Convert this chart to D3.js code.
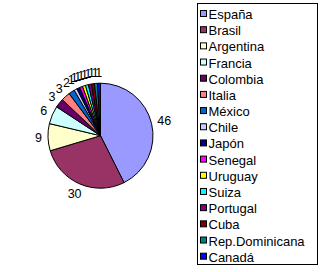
<!DOCTYPE html>
<html>
<head>
<meta charset="utf-8">
<script src="https://cdn.jsdelivr.net/npm/d3@7"></script>
<style>
  body { margin: 0; background: #fff; }
  svg { display: block; }
  text { font-family: Arial, "Liberation Sans", sans-serif; }
</style>
</head>
<body>
<svg id="chart" width="320" height="272"></svg>
<script>
const W = 320, H = 272;

// data
const countries = ["España", "Brasil", "Argentina", "Francia", "Colombia", "Italia", "México", "Chile",
  "Japón", "Senegal", "Uruguay", "Suiza", "Portugal", "Cuba", "Rep.Dominicana", "Canadá"];
const values = [46, 30, 9, 6, 3, 3, 2, 1, 1, 1, 1, 1, 1, 1, 1, 1];
const colors = ["#9999FF", "#993366", "#FFFFCC", "#CCFFFF", "#660066", "#FF8080", "#0066CC", "#CCCCFF",
  "#000080", "#FF00FF", "#FFFF00", "#00FFFF", "#800080", "#800000", "#008080", "#0000FF"];

const svg = d3.select("#chart");
const cx = 100.5, cy = 135.7, r = 52.5;

const pie = d3.pie().sort(null).value(d => d.v);
const arcs = pie(values.map((v, i) => ({ v, i })));
const arc = d3.arc().innerRadius(0).outerRadius(r);

const g = svg.append("g").attr("transform", `translate(${cx},${cy})`);

g.selectAll("path.slice")
  .data(arcs)
  .enter()
  .append("path")
  .attr("class", "slice")
  .attr("d", arc)
  .attr("fill", d => colors[d.data.i])
  .attr("stroke", "#000")
  .attr("stroke-width", 1);

// labels outside the pie, excel style
const fs = 12.5;
g.selectAll("text.lab")
  .data(arcs)
  .enter()
  .append("text")
  .attr("class", "lab")
  .attr("font-size", fs)
  .attr("text-anchor", "middle")
  .attr("dominant-baseline", "central")
  .each(function (d) {
    const a = (d.startAngle + d.endAngle) / 2;
    const dx = Math.sin(a), dy = -Math.cos(a);
    const w = String(d.data.v).length * fs * 0.556;
    const h = fs * 0.75;
    const x = dx * (r + 6) + dx * w / 2;
    const y = dy * (r + 6) + dy * h / 2;
    d3.select(this).attr("x", x).attr("y", y).text(d.data.v);
  });

// legend
const lg = { x: 197.5, y: 3.5, w: 120, h: 261 };
svg.append("rect")
  .attr("x", lg.x).attr("y", lg.y)
  .attr("width", lg.w).attr("height", lg.h)
  .attr("fill", "#fff").attr("stroke", "#000");

const ly = d3.scalePoint().domain(countries).range([14, 256.7]);

const items = svg.selectAll("g.item")
  .data(countries)
  .enter()
  .append("g")
  .attr("class", "item")
  .attr("transform", d => `translate(0,${ly(d)})`);

items.append("rect")
  .attr("x", 200.5).attr("y", -3.5)
  .attr("width", 6).attr("height", 6)
  .attr("fill", (d, i) => colors[i])
  .attr("stroke", "#000");

items.append("text")
  .attr("x", 208.5).attr("y", 0.5)
  .attr("dominant-baseline", "central")
  .attr("font-size", 13)
  .text(d => d);
</script>
</body>
</html>
